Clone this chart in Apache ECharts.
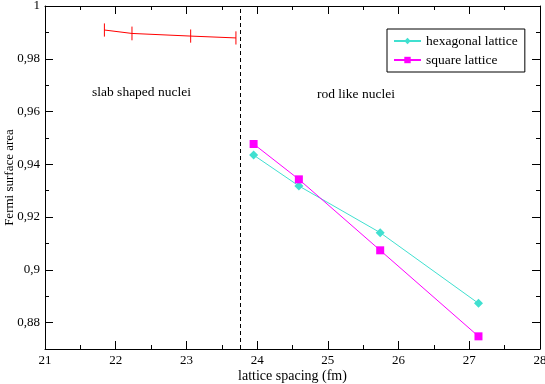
<!DOCTYPE html>
<html>
<head>
<meta charset="utf-8">
<script src="https://cdn.jsdelivr.net/npm/echarts@6/dist/echarts.min.js"></script>
<style>
html, body { margin: 0; padding: 0; background: #fff; }
#main { width: 545px; height: 384px; }
</style>
</head>
<body>
<div id="main"></div>
<script>
// slab phase (with error bars)
var slabX = [21.84, 22.23, 23.06, 23.70];
var slabY = [0.9909, 0.9896, 0.9886, 0.9879];
var slabErr = [0.0025, 0.0026, 0.0025, 0.0025];
// rod phase
var hexX = [23.95, 24.59, 25.74, 27.13];
var hexY = [0.9435, 0.9318, 0.9141, 0.8873];
var sqX = [23.95, 24.59, 25.74, 27.13];
var sqY = [0.9477, 0.9343, 0.9074, 0.8748];
var boundaryX = 23.76;
// axis ticks
var yMajor = [0.88, 0.9, 0.92, 0.94, 0.96, 0.98, 1];
var yMinor = [0.87, 0.89, 0.91, 0.93, 0.95, 0.97, 0.99];

var font = 'Liberation Serif';
var black = '#000';

function yFmt(v) {
  return String(+(+v).toFixed(2)).replace('.', ',');
}

var myChart = echarts.init(document.getElementById('main'));

function yAx(pos, major, labels, line) {
  return {
    type: 'value', position: pos, min: 0.87, max: 1,
    axisLine: { show: line, lineStyle: { color: black, width: 1 } },
    axisTick: { show: true, inside: true, length: major ? 8 : 4,
      customValues: major ? yMajor : yMinor, lineStyle: { color: black } },
    axisLabel: { show: labels, customValues: yMajor, formatter: yFmt,
      color: black, fontFamily: font, fontSize: 13, margin: 5 },
    splitLine: { show: false }
  };
}

function xAx(pos, labels) {
  return {
    type: 'value', position: pos, min: 21, max: 28, interval: 1,
    axisLine: { show: true, onZero: false, lineStyle: { color: black, width: 1 } },
    axisTick: { show: true, inside: true, length: 8, lineStyle: { color: black } },
    minorTick: { show: true, splitNumber: 2, length: 4, lineStyle: { color: black } },
    axisLabel: { show: labels, color: black, fontFamily: font, fontSize: 13, margin: 5 },
    splitLine: { show: false }
  };
}

var xBottom = xAx('bottom', true);
xBottom.name = 'lattice spacing (fm)';
xBottom.nameLocation = 'middle';
xBottom.nameGap = 20;
xBottom.nameMoveOverlap = false;
xBottom.nameTextStyle = { color: black, fontFamily: font, fontSize: 14 };

var yLeft = yAx('left', true, true, true);
yLeft.name = 'Fermi surface area';
yLeft.nameLocation = 'middle';
yLeft.nameGap = 29;
yLeft.nameMoveOverlap = false;
yLeft.nameTextStyle = { color: black, fontFamily: font, fontSize: 13 };

var option = {
  animation: false,
  backgroundColor: '#fff',
  grid: { left: 45, right: 5, top: 6, bottom: 35, containLabel: false, outerBoundsMode: 'none' },
  xAxis: [xBottom, xAx('top', false)],
  yAxis: [
    yLeft,
    yAx('left', false, false, false),
    yAx('right', true, false, true),
    yAx('right', false, false, false)
  ],
  legend: {
    data: ['hexagonal lattice', 'square lattice'],
    orient: 'vertical',
    left: 387, top: 29,
    itemWidth: 27, itemHeight: 8, itemGap: 5,
    padding: [5, 7, 5, 6],
    borderColor: black, borderWidth: 1, borderRadius: 0,
    backgroundColor: '#fff',
    textStyle: { color: black, fontFamily: font, fontSize: 13.5 }
  },
  graphic: [
    { type: 'text', left: 92, top: 85,
      style: { text: 'slab shaped nuclei', fill: black, font: '13.5px "Liberation Serif"' } },
    { type: 'text', left: 317, top: 87,
      style: { text: 'rod like nuclei', fill: black, font: '13.5px "Liberation Serif"' } }
  ],
  series: [
    {
      name: 'slab', type: 'line', symbol: 'none',
      data: slabX.map(function (x, i) { return [x, slabY[i]]; }),
      lineStyle: { color: '#ff0000', width: 1 },
      itemStyle: { color: '#ff0000' },
      markLine: {
        silent: true, symbol: 'none',
        label: { show: false },
        lineStyle: { color: black, type: [4, 3], width: 1 },
        data: [{ xAxis: boundaryX }]
      }
    },
    {
      name: 'slabErr', type: 'custom',
      data: slabX.map(function (x, i) { return [x, slabY[i], slabErr[i]]; }),
      encode: { x: 0, y: 1 },
      renderItem: function (params, api) {
        var x = api.value(0), y = api.value(1), e = api.value(2);
        var p1 = api.coord([x, y + e]);
        var p2 = api.coord([x, y - e]);
        return {
          type: 'line',
          shape: { x1: p1[0], y1: p1[1], x2: p2[0], y2: p2[1] },
          style: { stroke: '#ff0000', lineWidth: 1 }
        };
      }
    },
    {
      name: 'hexagonal lattice', type: 'line',
      symbol: 'diamond', symbolSize: 9,
      data: hexX.map(function (x, i) { return [x, hexY[i]]; }),
      lineStyle: { color: '#40e0d0', width: 1 },
      itemStyle: { color: '#40e0d0' }
    },
    {
      name: 'square lattice', type: 'line',
      symbol: 'rect', symbolSize: 8,
      data: sqX.map(function (x, i) { return [x, sqY[i]]; }),
      lineStyle: { color: '#ff00ff', width: 1 },
      itemStyle: { color: '#ff00ff' }
    }
  ]
};

myChart.setOption(option);
</script>
</body>
</html>
